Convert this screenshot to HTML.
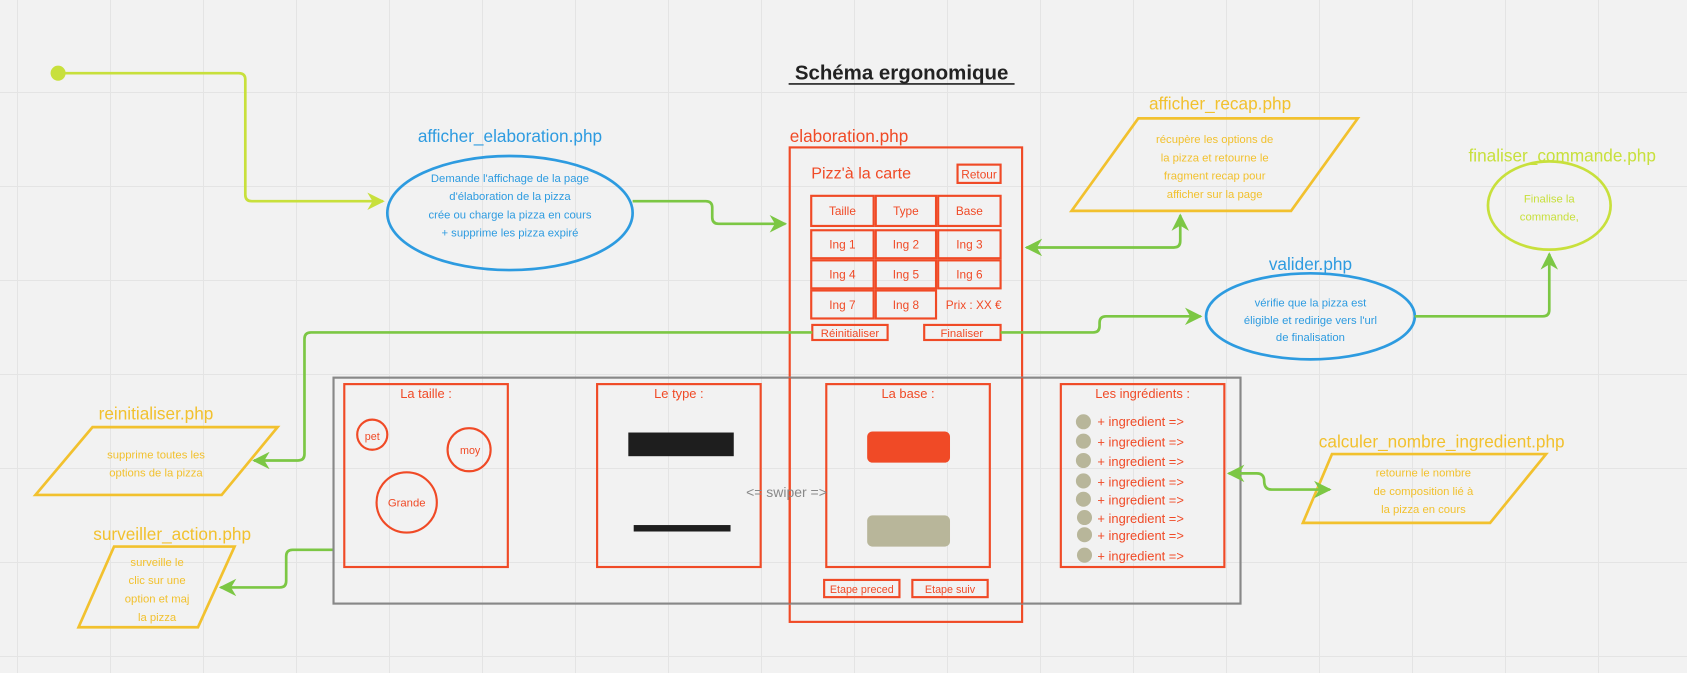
<!DOCTYPE html>
<html><head><meta charset="utf-8"><style>
html,body{margin:0;padding:0;}
body{width:1687px;height:673px;overflow:hidden;background-color:#f2f2f2;
background-image:linear-gradient(to right,#e4e4e4 1px,transparent 1px),linear-gradient(to bottom,#e4e4e4 1px,transparent 1px);
background-size:93px 94px;background-position:17px 92px;}
svg{position:absolute;left:0;top:0;}
text{font-family:"Liberation Sans",sans-serif;}
</style></head><body>
<svg width="1687" height="673" viewBox="0 0 1568 625.5" xmlns="http://www.w3.org/2000/svg">
<defs>
<marker id="ag" viewBox="0 0 10 10" refX="9" refY="5" markerWidth="6.5" markerHeight="6.5" orient="auto-start-reverse"><path d="M0,0 L10,5 L0,10 L3,5 z" fill="#7cc744"/></marker>
<marker id="ay" viewBox="0 0 10 10" refX="9" refY="5" markerWidth="6.5" markerHeight="6.5" orient="auto-start-reverse"><path d="M0,0 L10,5 L0,10 L3,5 z" fill="#c8e03c"/></marker>
</defs>
<text x="838" y="74" font-size="19" font-weight="bold" text-anchor="middle" fill="#222">Schéma ergonomique</text>
<line x1="733" y1="78" x2="943" y2="78" stroke="#222" stroke-width="1.5"/>
<circle cx="54" cy="68" r="7" fill="#c8e03c"/>
<path d="M54,68 H222 Q228,68 228,74 V181 Q228,187 234,187 H356" fill="none" stroke="#c8e03c" stroke-width="2.5" marker-end="url(#ay)"/>
<text x="474" y="132" font-size="16" fill="#2d9be0" text-anchor="middle">afficher_elaboration.php</text>
<ellipse cx="474" cy="198" rx="114" ry="53" fill="none" stroke="#2d9be0" stroke-width="2.5"/>
<g font-size="10.5" fill="#2d9be0" text-anchor="middle">
<text x="474" y="169">Demande l'affichage de la page</text>
<text x="474" y="186">d'élaboration de la pizza</text>
<text x="474" y="203">crée ou charge la pizza en cours</text>
<text x="474" y="220">+ supprime les pizza expiré</text></g>
<path d="M588,187 H656 Q662,187 662,193 V202 Q662,208 668,208 H730" fill="none" stroke="#7cc744" stroke-width="2.5" marker-end="url(#ag)"/>
<g fill="none" stroke="#f04a26" stroke-width="2">
<rect x="734" y="137" width="216" height="441"/>
<rect x="890" y="153" width="40" height="17"/>
<rect x="754" y="182" width="58" height="28"/><rect x="814" y="182" width="56" height="28"/><rect x="872" y="182" width="58" height="28"/>
<rect x="754" y="214" width="58" height="26"/><rect x="814" y="214" width="56" height="26"/><rect x="872" y="214" width="58" height="26"/>
<rect x="754" y="242" width="58" height="26"/><rect x="814" y="242" width="56" height="26"/><rect x="872" y="242" width="58" height="26"/>
<rect x="754" y="270" width="58" height="26"/><rect x="814" y="270" width="56" height="26"/>
<rect x="755" y="302" width="70" height="14"/><rect x="859" y="302" width="71" height="14"/>
</g>
<g fill="#f04a26" text-anchor="middle" font-size="11">
<text x="734" y="132" font-size="16" text-anchor="start">elaboration.php</text>
<text x="754" y="166" font-size="15" text-anchor="start">Pizz'à la carte</text>
<text x="910" y="166">Retour</text>
<text x="783" y="200">Taille</text><text x="842" y="200">Type</text><text x="901" y="200">Base</text>
<text x="783" y="231">Ing 1</text><text x="842" y="231">Ing 2</text><text x="901" y="231">Ing 3</text>
<text x="783" y="259">Ing 4</text><text x="842" y="259">Ing 5</text><text x="901" y="259">Ing 6</text>
<text x="783" y="287">Ing 7</text><text x="842" y="287">Ing 8</text><text x="905" y="287">Prix : XX €</text>
<text x="790" y="313" font-size="10.5">Réinitialiser</text><text x="894" y="313" font-size="10.5">Finaliser</text>
</g>
<text x="1134" y="102" font-size="16" fill="#f2c12e" text-anchor="middle">afficher_recap.php</text>
<polygon points="1058,110 1262,110 1200,196 996,196" fill="none" stroke="#f2c12e" stroke-width="2.5"/>
<g font-size="10.5" fill="#f2c12e" text-anchor="middle">
<text x="1129" y="133">récupère les options de</text>
<text x="1129" y="150">la pizza et retourne le</text>
<text x="1129" y="167">fragment recap pour</text>
<text x="1129" y="184">afficher sur la page</text></g>
<path d="M1097,200 V224 Q1097,230 1091,230 H954" fill="none" stroke="#7cc744" stroke-width="2.5" marker-start="url(#ag)" marker-end="url(#ag)"/>
<text x="1452" y="150" font-size="16" fill="#c8e03c" text-anchor="middle">finaliser_commande.php</text>
<ellipse cx="1440" cy="191" rx="57" ry="41" fill="none" stroke="#c8e03c" stroke-width="2.5"/>
<text x="1440" y="188" font-size="10.5" fill="#c8e03c" text-anchor="middle">Finalise la</text>
<text x="1440" y="205" font-size="10.5" fill="#c8e03c" text-anchor="middle">commande,</text>
<text x="1218" y="251" font-size="16" fill="#2d9be0" text-anchor="middle">valider.php</text>
<ellipse cx="1218" cy="294" rx="97" ry="40" fill="none" stroke="#2d9be0" stroke-width="2.5"/>
<g font-size="10.5" fill="#2d9be0" text-anchor="middle">
<text x="1218" y="285">vérifie que la pizza est</text>
<text x="1218" y="301">éligible et redirige vers l'url</text>
<text x="1218" y="317">de finalisation</text></g>
<path d="M930,309 H1016 Q1022,309 1022,303 V300 Q1022,294 1028,294 H1116" fill="none" stroke="#7cc744" stroke-width="2.5" marker-end="url(#ag)"/>
<path d="M1315,294 H1434 Q1440,294 1440,288 V236" fill="none" stroke="#7cc744" stroke-width="2.5" marker-end="url(#ag)"/>
<path d="M755,309 H289 Q283,309 283,315 V422 Q283,428 277,428 H236" fill="none" stroke="#7cc744" stroke-width="2.5" marker-end="url(#ag)"/>
<text x="145" y="390" font-size="16" fill="#f2c12e" text-anchor="middle">reinitialiser.php</text>
<polygon points="86,397 258,397 206,460 33,460" fill="none" stroke="#f2c12e" stroke-width="2.5"/>
<text x="145" y="426" font-size="10.5" fill="#f2c12e" text-anchor="middle">supprime toutes les</text>
<text x="145" y="443" font-size="10.5" fill="#f2c12e" text-anchor="middle">options de la pizza</text>
<text x="160" y="502" font-size="16" fill="#f2c12e" text-anchor="middle">surveiller_action.php</text>
<polygon points="106,508 218,508 184,583 73,583" fill="none" stroke="#f2c12e" stroke-width="2.5"/>
<g font-size="10.5" fill="#f2c12e" text-anchor="middle">
<text x="146" y="526">surveille le</text><text x="146" y="543">clic sur une</text>
<text x="146" y="560">option et maj</text><text x="146" y="577">la pizza</text></g>
<path d="M310,511 H272 Q266,511 266,517 V540 Q266,546 260,546 H205" fill="none" stroke="#7cc744" stroke-width="2.5" marker-end="url(#ag)"/>
<rect x="310" y="351" width="843" height="210" fill="none" stroke="#888" stroke-width="2"/>
<g fill="none" stroke="#f04a26" stroke-width="2">
<rect x="320" y="357" width="152" height="170"/>
<rect x="555" y="357" width="152" height="170"/>
<rect x="768" y="357" width="152" height="170"/>
<rect x="986" y="357" width="152" height="170"/>
<circle cx="346" cy="404" r="14"/><circle cx="436" cy="418" r="20"/><circle cx="378" cy="467" r="28"/>
<rect x="766" y="539" width="70" height="16"/><rect x="848" y="539" width="70" height="16"/>
</g>
<line x1="734" y1="351" x2="734" y2="561" stroke="#f04a26" stroke-width="2"/>
<line x1="950" y1="351" x2="950" y2="561" stroke="#f04a26" stroke-width="2"/>
<g fill="#f04a26" text-anchor="middle" font-size="12">
<text x="396" y="370">La taille :</text><text x="631" y="370">Le type :</text>
<text x="844" y="370">La base :</text><text x="1062" y="370">Les ingrédients :</text>
<text x="346" y="409" font-size="10">pet</text><text x="437" y="422" font-size="10">moy</text><text x="378" y="471" font-size="10.5">Grande</text>
<text x="801" y="551" font-size="10">Etape preced</text><text x="883" y="551" font-size="10">Etape suiv</text>
</g>
<rect x="584" y="402" width="98" height="22" fill="#1e1e1e"/>
<rect x="589" y="488" width="90" height="6" fill="#1e1e1e"/>
<rect x="806" y="401" width="77" height="29" rx="5" fill="#f04a26"/>
<rect x="806" y="479" width="77" height="29" rx="5" fill="#b8b69a"/>
<text x="731" y="462" font-size="13" fill="#888" text-anchor="middle">&lt;= swiper =&gt;</text>
<g fill="#b8b69a">
<circle cx="1007" cy="392" r="7"/><circle cx="1007" cy="410" r="7"/><circle cx="1007" cy="428" r="7"/><circle cx="1007" cy="447" r="7"/>
<circle cx="1007" cy="464" r="7"/><circle cx="1008" cy="481" r="7"/><circle cx="1008" cy="497" r="7"/><circle cx="1008" cy="516" r="7"/></g>
<g fill="#f04a26" font-size="12">
<text x="1020" y="396">+  ingredient  =&gt;</text><text x="1020" y="415">+  ingredient  =&gt;</text>
<text x="1020" y="433">+  ingredient  =&gt;</text><text x="1020" y="452">+  ingredient  =&gt;</text>
<text x="1020" y="469">+  ingredient  =&gt;</text><text x="1020" y="486">+  ingredient  =&gt;</text>
<text x="1020" y="502">+  ingredient  =&gt;</text><text x="1020" y="521">+  ingredient  =&gt;</text></g>
<text x="1340" y="416" font-size="16" fill="#f2c12e" text-anchor="middle">calculer_nombre_ingredient.php</text>
<polygon points="1238,422 1437,422 1385,486 1211,486" fill="none" stroke="#f2c12e" stroke-width="2.5"/>
<g font-size="10.5" fill="#f2c12e" text-anchor="middle">
<text x="1323" y="443">retourne le nombre</text><text x="1323" y="460">de composition lié à</text><text x="1323" y="477">la pizza en cours</text></g>
<path d="M1142,440 H1168 Q1175,440 1175,447 Q1175,455 1182,455 H1236" fill="none" stroke="#7cc744" stroke-width="2.5" marker-start="url(#ag)" marker-end="url(#ag)"/>
</svg>
</body></html>
